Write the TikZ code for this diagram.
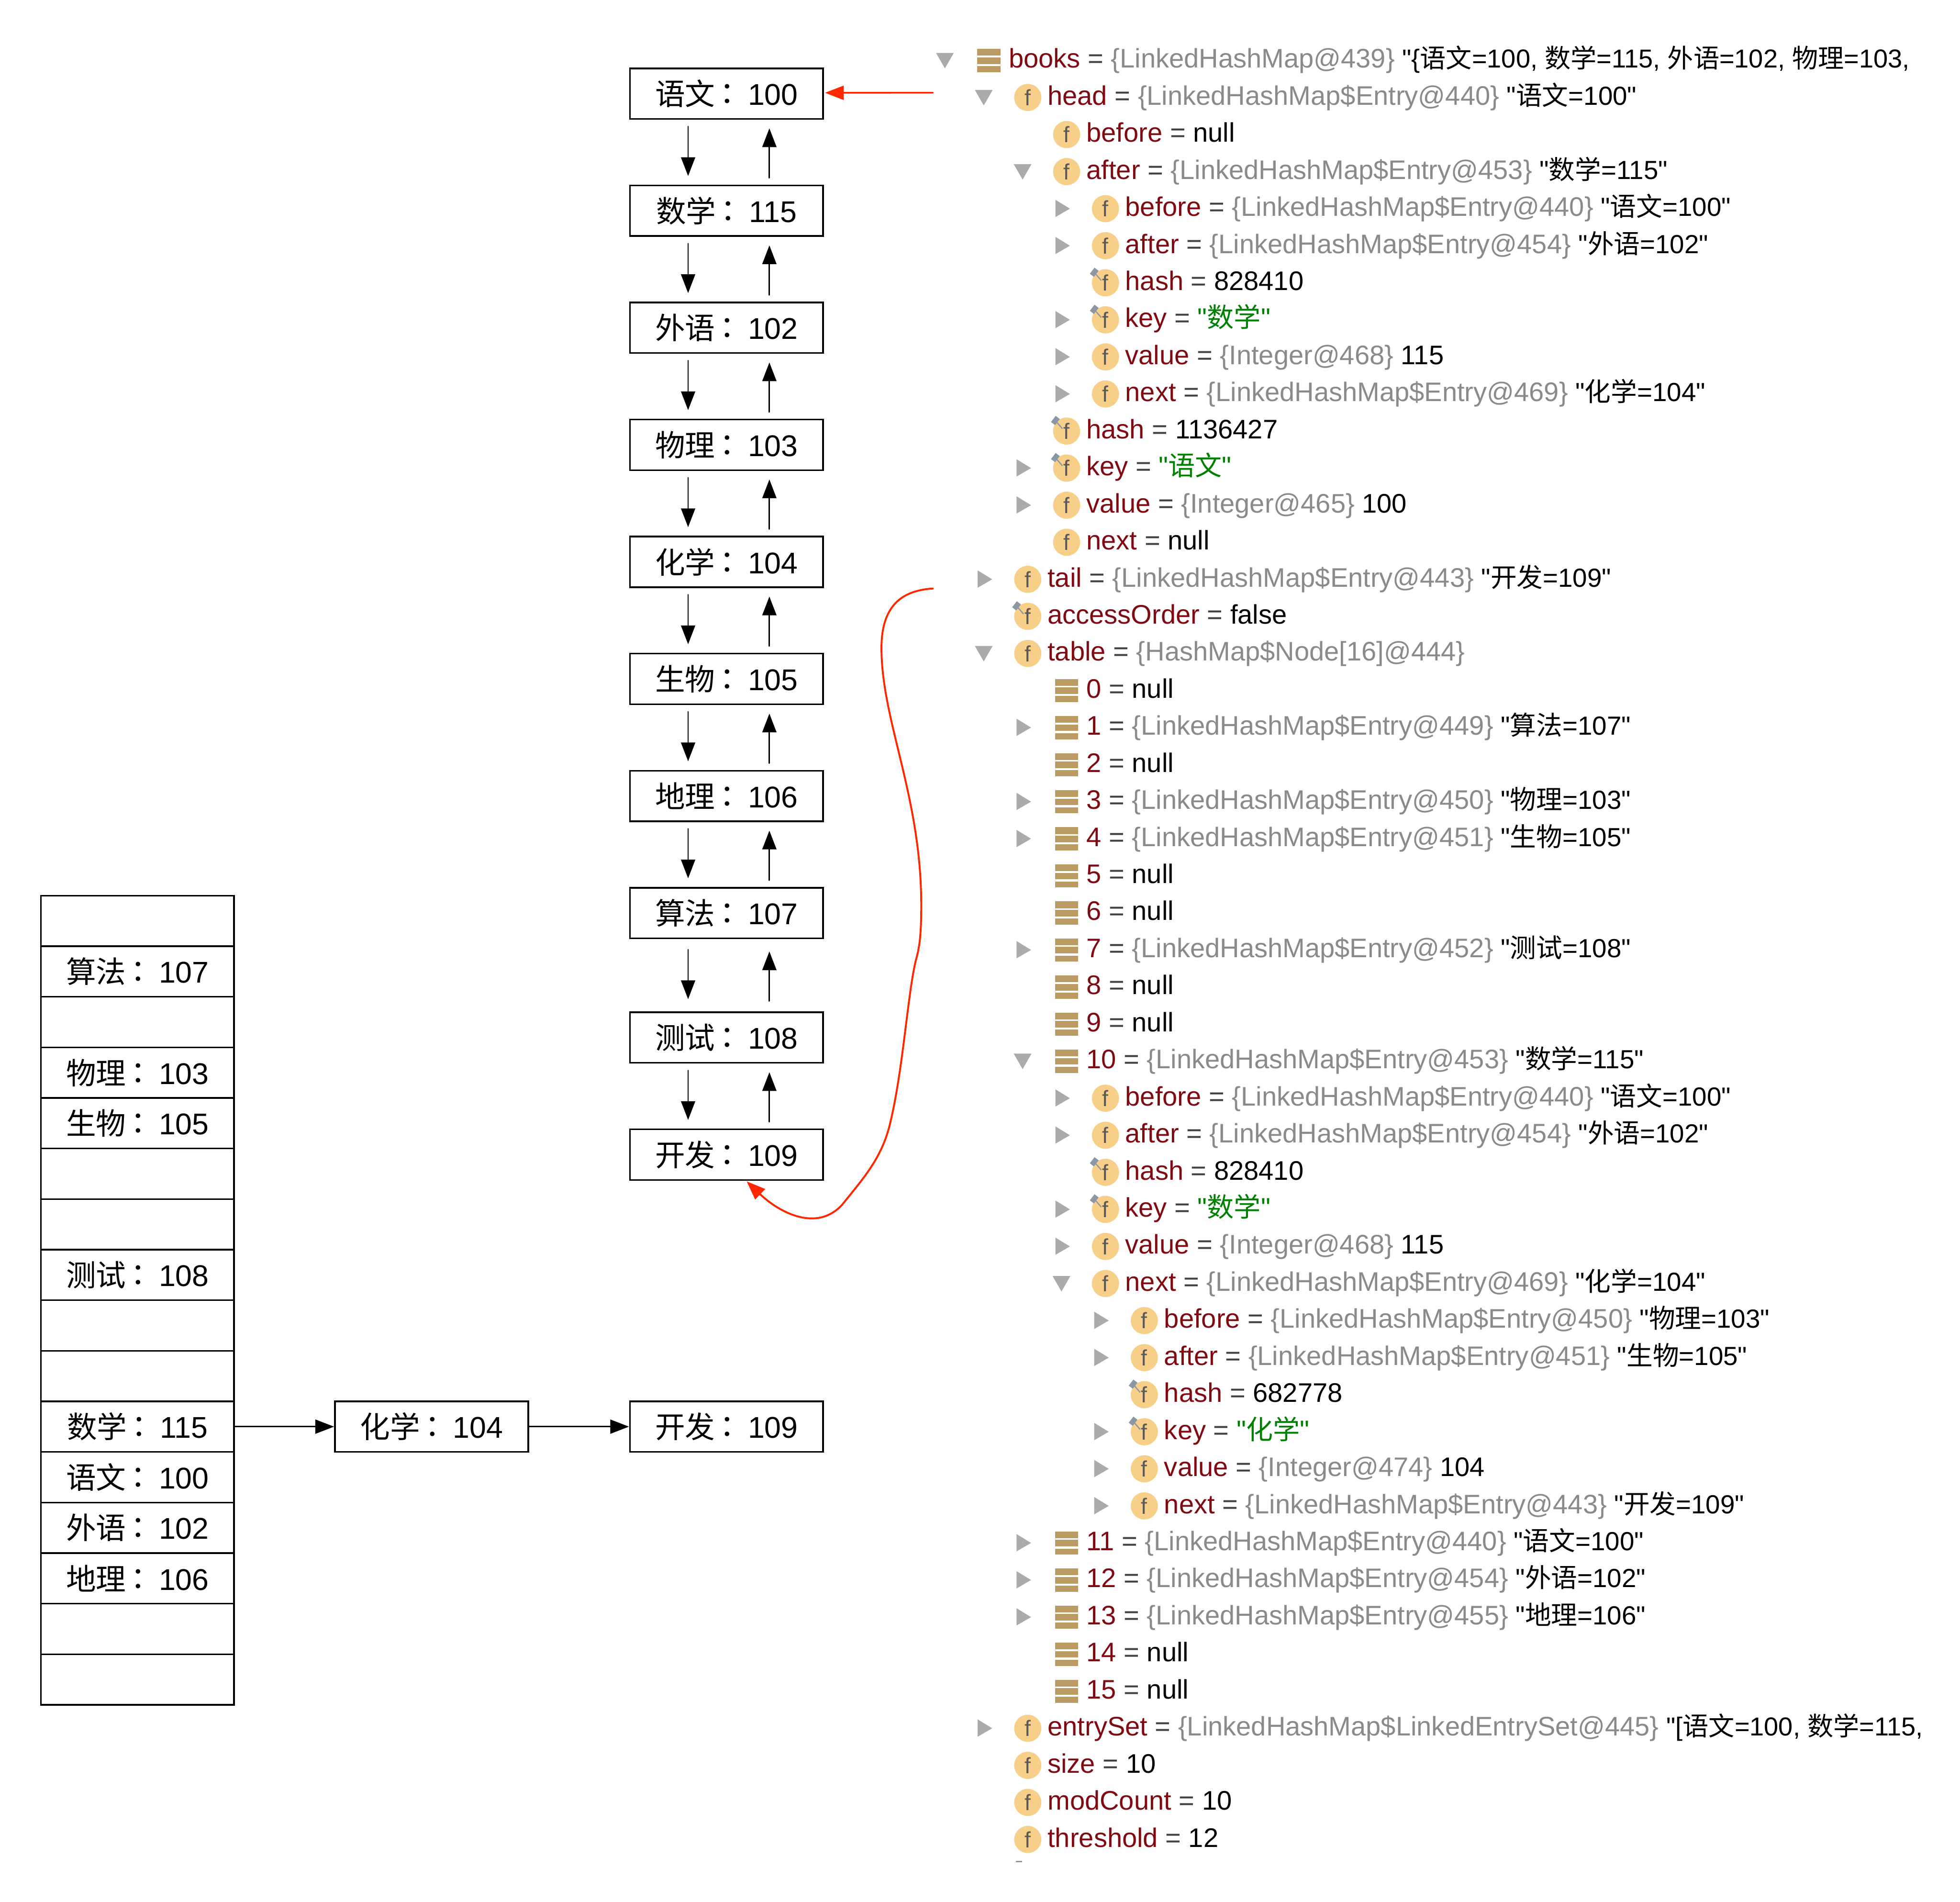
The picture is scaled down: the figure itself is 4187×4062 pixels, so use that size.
\documentclass[tikz,border=0pt]{standalone}
\usepackage{fontspec}
\usetikzlibrary{arrows.meta}
\setmainfont{Liberation Sans}
\newfontfamily\plainsans{Liberation Sans}
\newfontfamily\cjk{Noto Sans CJK SC}
\newfontfamily\cjkcolon{Noto Sans CJK KR}
\definecolor{nmc}{HTML}{7F0A12}
\definecolor{tyc}{HTML}{8A8A8A}
\definecolor{eqc}{HTML}{404040}
\definecolor{grn}{HTML}{008000}
\definecolor{trc}{HTML}{ABABAB}
\definecolor{fic}{HTML}{F8CF88}
\definecolor{lsc}{HTML}{BC9A63}
\definecolor{pinc}{HTML}{8B98A3}
\definecolor{redc}{HTML}{FF2600}
\newcommand{\zh}[1]{{\cjk #1}}
\newcommand{\bk}[2]{\zh{#1}\kern-0.09em{\cjkcolon ：}\hspace{0.19em}#2}
\newcommand{\nm}[1]{\textcolor{nmc}{#1}}
\newcommand{\ty}[1]{\textcolor{tyc}{#1}}
\newcommand{\eqq}{\textcolor{eqc}{=}}
\newcommand{\rw}[2]{\nm{#1} \eqq{} #2}
\newcommand{\ent}[1]{\ty{\{LinkedHashMap\$Entry@#1\}}}
\newcommand{\intg}[1]{\ty{\{Integer@#1\}}}
\newcommand{\strsz}{\fontsize{15.9}{18}\selectfont}
\newcommand{\strszlong}{\fontsize{15.75}{18}\selectfont}
\newcommand{\sv}[2]{{\strsz "\zh{#1}=#2"}}
\newcommand{\kv}[1]{\textcolor{grn}{"\zh{#1}"}}
\newcommand{\trie}{\fill[trc] (\trix-19,\rowy-16) -- (\trix+19,\rowy-16) -- (\trix,\rowy+17) -- cycle;}
\newcommand{\tric}{\fill[trc] (\trix-13,\rowy-19) -- (\trix-13,\rowy+18) -- (\trix+18,\rowy) -- cycle;}
\newcommand{\trin}{}
\newcommand{\icol}{%
  \fill[lsc] (\icox-25,\rowy-24.5) rectangle (\icox+25,\rowy-10);
  \fill[lsc] (\icox-25,\rowy-6.5) rectangle (\icox+25,\rowy+7.5);
  \fill[lsc] (\icox-25,\rowy+12) rectangle (\icox+25,\rowy+25);}
\newcommand{\icof}{\node[ficon] at (\icox,\rowy) {f};}
\newcommand{\icop}{\node[ficon] at (\icox,\rowy) {f};
  \draw[pinc,line width=0.025cm] (\icox-22,\rowy-20) -- (\icox-9,\rowy-5);
  \draw[pinc,line width=0.11cm] (\icox-29,\rowy-16) -- (\icox-19,\rowy-29);}
\newcommand{\treerow}[5]{%
  \pgfmathsetmacro\rowy{129+79.16*#1}%
  \pgfmathsetmacro\txtx{2155+83*#2}%
  \pgfmathsetmacro\icox{2112.5+83*#2}%
  \pgfmathsetmacro\trix{2018.5+83*#2}%
  \csname tri#3\endcsname
  \csname ico#4\endcsname
  \node[rowtext] (r#1) at (\txtx,\rowy+16) {#5};}
\tikzset{
  x=0.01cm,y=-0.01cm,
  cellbox/.style={draw=black,line width=0.035cm,minimum width=4.125cm,minimum height=1.08cm,inner sep=0,outer sep=0,font=\fontsize{18.2}{20}\selectfont,fill=white},
  rowtext/.style={anchor=base west,inner sep=0,outer sep=0,font=\plainsans\fontsize{16.3}{18}\selectfont,text=black},
  ficon/.style={circle,fill=fic,inner sep=0,minimum size=0.58cm,text=black!65,font=\fontsize{13.5}{14}\selectfont},
  arr/.style={-{Triangle[length=0.4cm,width=0.3cm]},line width=0.03cm,line cap=round,draw=black},
  redarr/.style={-{Triangle[length=0.4cm,width=0.3cm]},line width=0.035cm,line cap=round,draw=redc},
}
\begin{document}
\begin{tikzpicture}
\useasboundingbox (0,0) rectangle (4187,4062);
\fill[white] (0,0) rectangle (4187,4062);
% chain
\node[cellbox] (c0) at (1552,200) {\bk{语文}{100}};
\node[cellbox] (c1) at (1552,450) {\bk{数学}{115}};
\node[cellbox] (c2) at (1552,700) {\bk{外语}{102}};
\node[cellbox] (c3) at (1552,950) {\bk{物理}{103}};
\node[cellbox] (c4) at (1552,1200) {\bk{化学}{104}};
\node[cellbox] (c5) at (1552,1450) {\bk{生物}{105}};
\node[cellbox] (c6) at (1552,1700) {\bk{地理}{106}};
\node[cellbox] (c7) at (1552,1950) {\bk{算法}{107}};
\node[cellbox] (c8) at (1552,2216) {\bk{测试}{108}};
\node[cellbox] (c9) at (1552,2466) {\bk{开发}{109}};
\foreach \a/\b in {c0/c1,c1/c2,c2/c3,c3/c4,c4/c5,c5/c6,c6/c7,c8/c9}{
  \draw[arr,shorten <=0.16cm,shorten >=0.2cm] ([xshift=-0.82cm]\a.south) -- ([xshift=-0.82cm]\b.north);
  \draw[arr,shorten <=0.16cm,shorten >=0.2cm] ([xshift=0.915cm]\b.north) -- ([xshift=0.915cm]\a.south);
}
\draw[arr,shorten <=0.24cm,shorten >=0.28cm] ([xshift=-0.82cm]c7.south) -- ([xshift=-0.82cm]c8.north);
\draw[arr,shorten <=0.24cm,shorten >=0.28cm] ([xshift=0.915cm]c8.north) -- ([xshift=0.915cm]c7.south);
% table
\node[cellbox] (t0) at (293.7,1967) {};
\node[cellbox] (t1) at (293.7,2075) {\bk{算法}{107}};
\node[cellbox] (t2) at (293.7,2183) {};
\node[cellbox] (t3) at (293.7,2291) {\bk{物理}{103}};
\node[cellbox] (t4) at (293.7,2399) {\bk{生物}{105}};
\node[cellbox] (t5) at (293.7,2507) {};
\node[cellbox] (t6) at (293.7,2615) {};
\node[cellbox] (t7) at (293.7,2723) {\bk{测试}{108}};
\node[cellbox] (t8) at (293.7,2831) {};
\node[cellbox] (t9) at (293.7,2939) {};
\node[cellbox] (t10) at (293.7,3047) {\bk{数学}{115}};
\node[cellbox] (t11) at (293.7,3155) {\bk{语文}{100}};
\node[cellbox] (t12) at (293.7,3263) {\bk{外语}{102}};
\node[cellbox] (t13) at (293.7,3371) {\bk{地理}{106}};
\node[cellbox] (t14) at (293.7,3479) {};
\node[cellbox] (t15) at (293.7,3587) {};
\node[cellbox] (hua) at (922,3047) {\bk{化学}{104}};
\node[cellbox] (kf) at (1552,3047) {\bk{开发}{109}};
\draw[arr,shorten >=0.02cm] (t10.east) -- (hua.west);
\draw[arr,shorten >=0.02cm] (hua.east) -- (kf.west);
% red connectors
\coordinate (headfree) at (1993,198);
\coordinate (tailfree) at (1993,1257);
\draw[redarr,shorten >=0.04cm] (headfree) -- ([yshift=0.018cm]c0.east);
\draw[redarr,line width=0.04cm] (tailfree) .. controls (1925,1261) and (1883,1295) .. (1883,1384)
  .. controls (1883,1540) and (1968,1700) .. (1968,1934)
  .. controls (1968,1990) and (1965,2020) .. (1958,2045)
  .. controls (1940,2110) and (1930,2280) .. (1902,2397)
  .. controls (1885,2470) and (1850,2510) .. (1799,2573)
  .. controls (1745,2632) and (1665,2590) .. ([xshift=0.43cm,yshift=-0.03cm]c9.south);
% debugger tree
\begin{scope}
\clip (1990,0) rectangle (4105,4062);
\treerow{0}{0}{e}{l}{\rw{books}{\ty{\{LinkedHashMap@439\}}} {\strszlong "\{\zh{语文}=100, \zh{数学}=115, \zh{外语}=102, \zh{物理}=103,}}
\treerow{1}{1}{e}{f}{\rw{head}{\ent{440}} \sv{语文}{100}}
\treerow{2}{2}{n}{f}{\rw{before}{null}}
\treerow{3}{2}{e}{f}{\rw{after}{\ent{453}} \sv{数学}{115}}
\treerow{4}{3}{c}{f}{\rw{before}{\ent{440}} \sv{语文}{100}}
\treerow{5}{3}{c}{f}{\rw{after}{\ent{454}} \sv{外语}{102}}
\treerow{6}{3}{n}{p}{\rw{hash}{828410}}
\treerow{7}{3}{c}{p}{\rw{key}{\kv{数学}}}
\treerow{8}{3}{c}{f}{\rw{value}{\intg{468}} 115}
\treerow{9}{3}{c}{f}{\rw{next}{\ent{469}} \sv{化学}{104}}
\treerow{10}{2}{n}{p}{\rw{hash}{1136427}}
\treerow{11}{2}{c}{p}{\rw{key}{\kv{语文}}}
\treerow{12}{2}{c}{f}{\rw{value}{\intg{465}} 100}
\treerow{13}{2}{n}{f}{\rw{next}{null}}
\treerow{14}{1}{c}{f}{\rw{tail}{\ent{443}} \sv{开发}{109}}
\treerow{15}{1}{n}{p}{\rw{accessOrder}{false}}
\treerow{16}{1}{e}{f}{\rw{table}{\ty{\{HashMap\$Node[16]@444\}}}}
\treerow{17}{2}{n}{l}{\rw{0}{null}}
\treerow{18}{2}{c}{l}{\rw{1}{\ent{449}} \sv{算法}{107}}
\treerow{19}{2}{n}{l}{\rw{2}{null}}
\treerow{20}{2}{c}{l}{\rw{3}{\ent{450}} \sv{物理}{103}}
\treerow{21}{2}{c}{l}{\rw{4}{\ent{451}} \sv{生物}{105}}
\treerow{22}{2}{n}{l}{\rw{5}{null}}
\treerow{23}{2}{n}{l}{\rw{6}{null}}
\treerow{24}{2}{c}{l}{\rw{7}{\ent{452}} \sv{测试}{108}}
\treerow{25}{2}{n}{l}{\rw{8}{null}}
\treerow{26}{2}{n}{l}{\rw{9}{null}}
\treerow{27}{2}{e}{l}{\rw{10}{\ent{453}} \sv{数学}{115}}
\treerow{28}{3}{c}{f}{\rw{before}{\ent{440}} \sv{语文}{100}}
\treerow{29}{3}{c}{f}{\rw{after}{\ent{454}} \sv{外语}{102}}
\treerow{30}{3}{n}{p}{\rw{hash}{828410}}
\treerow{31}{3}{c}{p}{\rw{key}{\kv{数学}}}
\treerow{32}{3}{c}{f}{\rw{value}{\intg{468}} 115}
\treerow{33}{3}{e}{f}{\rw{next}{\ent{469}} \sv{化学}{104}}
\treerow{34}{4}{c}{f}{\rw{before}{\ent{450}} \sv{物理}{103}}
\treerow{35}{4}{c}{f}{\rw{after}{\ent{451}} \sv{生物}{105}}
\treerow{36}{4}{n}{p}{\rw{hash}{682778}}
\treerow{37}{4}{c}{p}{\rw{key}{\kv{化学}}}
\treerow{38}{4}{c}{f}{\rw{value}{\intg{474}} 104}
\treerow{39}{4}{c}{f}{\rw{next}{\ent{443}} \sv{开发}{109}}
\treerow{40}{2}{c}{l}{\rw{11}{\ent{440}} \sv{语文}{100}}
\treerow{41}{2}{c}{l}{\rw{12}{\ent{454}} \sv{外语}{102}}
\treerow{42}{2}{c}{l}{\rw{13}{\ent{455}} \sv{地理}{106}}
\treerow{43}{2}{n}{l}{\rw{14}{null}}
\treerow{44}{2}{n}{l}{\rw{15}{null}}
\treerow{45}{1}{c}{f}{\rw{entrySet}{\ty{\{LinkedHashMap\$LinkedEntrySet@445\}}} {\strszlong "[\zh{语文}=100, \zh{数学}=115,}}
\treerow{46}{1}{n}{f}{\rw{size}{10}}
\treerow{47}{1}{n}{f}{\rw{modCount}{10}}
\treerow{48}{1}{n}{f}{\rw{threshold}{12}}
\end{scope}
\coordinate (dashl) at (2170,3976);
\coordinate (dashr) at (2183,3976);
\draw[pinc,line width=0.03cm] (dashl) -- (dashr);
\end{tikzpicture}
\end{document}
